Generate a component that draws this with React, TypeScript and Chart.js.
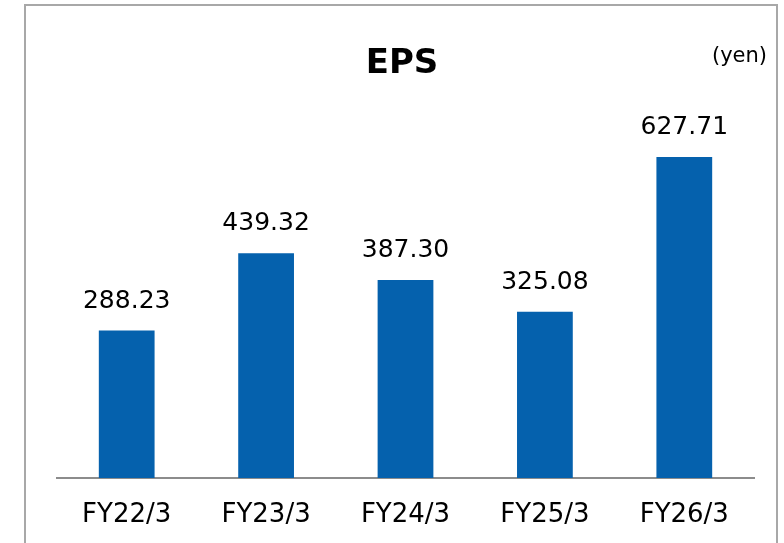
import React, { useEffect, useRef } from "react";
import { Chart, registerables } from "chart.js";

Chart.register(...registerables);

const categories = ["FY22/3", "FY23/3", "FY24/3", "FY25/3", "FY26/3"];
const epsValues = [288.23, 439.32, 387.3, 325.08, 627.71];
const chartTitle = "EPS";
const unitLabel = "(yen)";

const FONT = "'DejaVu Sans', Verdana, sans-serif";

const overlayPlugin = {
  id: "overlay",
  afterDatasetsDraw(chart: any) {
    const ctx = chart.ctx;
    ctx.save();
    ctx.fillStyle = "#000000";
    ctx.textAlign = "center";
    ctx.textBaseline = "alphabetic";
    ctx.font = `25px ${FONT}`;
    const meta = chart.getDatasetMeta(0);
    meta.data.forEach((bar: any, i: number) => {
      ctx.fillText(epsValues[i].toFixed(2), bar.x, bar.y - 23);
    });
    ctx.font = `bold 34px ${FONT}`;
    ctx.fillText(chartTitle, 402, 72.5);
    ctx.font = `21px ${FONT}`;
    ctx.textAlign = "right";
    ctx.fillText(unitLabel, 767, 62);
    ctx.restore();
  },
};

export default function App() {
  const canvasRef = useRef<HTMLCanvasElement | null>(null);

  useEffect(() => {
    if (!canvasRef.current) return;
    const chart = new Chart(canvasRef.current, {
      type: "bar",
      data: {
        labels: categories,
        datasets: [
          {
            data: epsValues,
            backgroundColor: "#0561AD",
            borderWidth: 0,
            categoryPercentage: 1,
            barPercentage: 0.4,
          },
        ],
      },
      options: {
        responsive: false,
        animation: false,
        layout: { padding: { left: 57, right: 30, top: 120, bottom: 0 } },
        plugins: {
          legend: { display: false },
          title: { display: false },
          tooltip: { enabled: false },
        },
        scales: {
          x: {
            grid: { display: false, drawTicks: false, tickLength: 0 },
            border: { display: true, color: "#8c8c8c", width: 2 },
            ticks: {
              color: "#000000",
              font: { family: FONT, size: 26 },
              padding: 22,
              maxRotation: 0,
            },
            afterFit: (scale: any) => {
              scale.height = 65;
            },
          },
          y: {
            display: false,
            min: 0,
            max: 700,
          },
        },
      },
      plugins: [overlayPlugin],
    });
    return () => chart.destroy();
  }, []);

  return (
    <div
      style={{
        position: "fixed",
        left: 0,
        top: 0,
        width: 784,
        height: 543,
        overflow: "hidden",
        background: "#ffffff",
      }}
    >
      <div
        style={{
          position: "absolute",
          left: 24,
          top: 4,
          width: 754,
          height: 600,
          boxSizing: "border-box",
          border: "2px solid #a8a8a8",
          borderBottom: "none",
        }}
      />
      <canvas
        ref={canvasRef}
        width={784}
        height={543}
        style={{ position: "absolute", left: 0, top: 0, display: "block" }}
      />
    </div>
  );
}
